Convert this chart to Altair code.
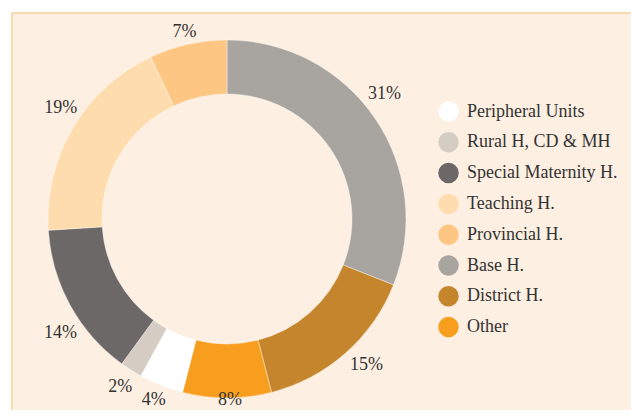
import altair as alt
import pandas as pd

# Data (clockwise from 12 o'clock)
categories = ["Base H.", "District H.", "Other", "Peripheral Units",
              "Rural H, CD & MH", "Special Maternity H.", "Teaching H.", "Provincial H."]
values = [31, 15, 8, 4, 2, 14, 19, 7]

# Legend order and colours
legend_order = ["Peripheral Units", "Rural H, CD & MH", "Special Maternity H.",
                "Teaching H.", "Provincial H.", "Base H.", "District H.", "Other"]
legend_colors = ["#ffffff", "#d5ccc3", "#6c6867", "#fedcae",
                 "#fdc682", "#a8a49f", "#c4852c", "#f89e1f"]

df = pd.DataFrame({
    "category": categories,
    "value": values,
    "idx": list(range(len(categories))),
    "label": [f"{v}%" for v in values],
})

FONT = "Liberation Serif"
CX, CY = 215, 206
theta_scale = alt.Scale(domain=[0, 100])

color = alt.Color(
    "category:N",
    scale=alt.Scale(domain=legend_order, range=legend_colors),
    legend=alt.Legend(
        title=None, orient="none", legendX=426, legendY=88,
        symbolType="circle", symbolSize=420, symbolStrokeWidth=0,
        labelFont=FONT, labelFontSize=18, labelColor="#333333",
        labelOffset=8, rowPadding=9.8, padding=0, labelLimit=300,
    ),
)

arcs = alt.Chart(df).mark_arc(innerRadius=125, outerRadius=179, stroke="#ffffff",
                              strokeWidth=0.4).encode(
    theta=alt.Theta("value:Q", stack=True, scale=theta_scale),
    order=alt.Order("idx:Q"),
    color=color,
    x=alt.value(CX),
    y=alt.value(CY),
)

label_src = alt.Chart(df).transform_window(
    cum="sum(value)", sort=[alt.SortField("idx")]
).transform_calculate(
    mid="datum.cum - datum.value / 2"
)

def label_layer(cats, dx=0, dy=0):
    return label_src.transform_filter(
        alt.FieldOneOfPredicate(field="category", oneOf=cats)
    ).mark_text(radius=199, font=FONT, fontSize=18, color="#333333",
                align="center", baseline="middle", dx=dx, dy=dy).encode(
        theta=alt.Theta("mid:Q", stack=False, scale=theta_scale),
        text="label:N",
        x=alt.value(CX),
        y=alt.value(CY),
    )

# label nudges (styling only)
label_layers = [
    label_layer(["Rural H, CD & MH"]),
    label_layer(["Peripheral Units"], dx=0, dy=-4),
    label_layer(["Base H."], dx=-7, dy=-13),
    label_layer(["District H."], dx=8, dy=-3),
    label_layer(["Other"], dx=3, dy=-18),
    label_layer(["Special Maternity H."], dx=8, dy=18),
    label_layer(["Teaching H."], dx=5, dy=-10),
    label_layer(["Provincial H."], dx=1, dy=7),
]

border_left = alt.Chart(df).mark_rule(color="#f9d9ae", strokeWidth=1.2).encode(
    x=alt.value(0), y=alt.value(0), y2=alt.value(397))
border_top = alt.Chart(df).mark_rule(color="#f9d9ae", strokeWidth=1.2).encode(
    x=alt.value(0), x2=alt.value(619), y=alt.value(0))

chart = alt.layer(
    border_left, border_top, arcs, *label_layers
).properties(
    width=619, height=397,
    padding={"left": 4, "top": 5, "right": 0, "bottom": 0},
    autosize=alt.AutoSizeParams(type="none"),
    background="#ffffff",
).configure_view(
    fill="#fdefe1", stroke=None
)

chart.save("out.html", embed_options={"renderer": "svg", "actions": False})
